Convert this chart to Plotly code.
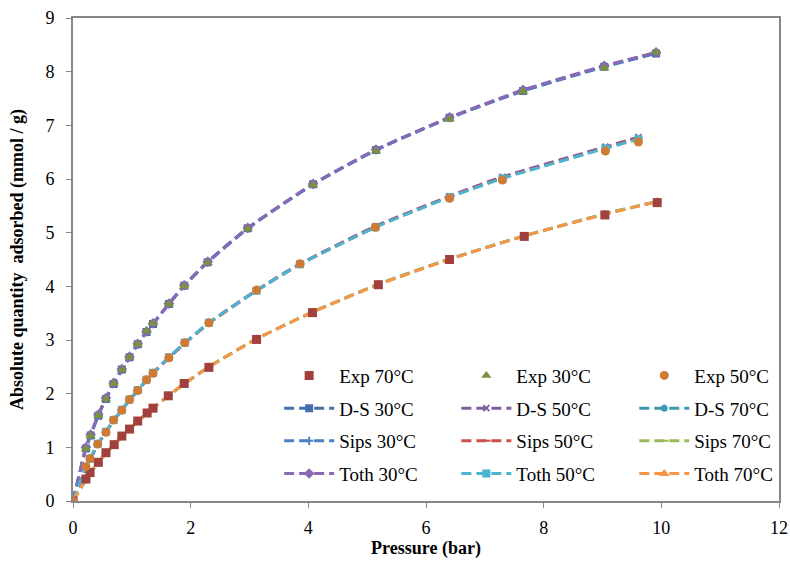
import plotly.graph_objects as go

# ---- data ----
p30 = [0, 0.22, 0.30, 0.43, 0.56, 0.69, 0.83, 0.96, 1.10, 1.25, 1.36, 1.63, 1.89, 2.29, 2.97, 4.08, 5.15, 6.40, 7.65, 9.03, 9.91]
q30 = [0, 0.97, 1.21, 1.59, 1.90, 2.19, 2.45, 2.68, 2.92, 3.17, 3.31, 3.67, 4.00, 4.44, 5.07, 5.89, 6.52, 7.12, 7.63, 8.07, 8.36]

p50 = [0, 0.22, 0.29, 0.42, 0.56, 0.69, 0.83, 0.96, 1.10, 1.25, 1.36, 1.63, 1.90, 2.31, 3.12, 3.86, 5.14, 6.40, 7.30, 9.05, 9.61]
q50 = [0, 0.64, 0.79, 1.06, 1.28, 1.51, 1.69, 1.89, 2.06, 2.26, 2.38, 2.67, 2.95, 3.32, 3.93, 4.42, 5.10, 5.64, 5.98, 6.52, 6.69]

p70 = [0, 0.22, 0.29, 0.43, 0.56, 0.70, 0.83, 0.96, 1.10, 1.26, 1.36, 1.62, 1.89, 2.31, 3.12, 4.07, 5.19, 6.40, 7.67, 9.04, 9.93]
q70 = [0, 0.41, 0.53, 0.72, 0.90, 1.05, 1.21, 1.34, 1.49, 1.64, 1.73, 1.96, 2.19, 2.49, 3.01, 3.51, 4.03, 4.50, 4.93, 5.33, 5.56]

# model curves
ds30 = [0, 0.98, 1.22, 1.59, 1.90, 2.18, 2.45, 2.68, 2.92, 3.15, 3.30, 3.67, 4.01, 4.45, 5.08, 5.90, 6.54, 7.14, 7.64, 8.09, 8.34]
sips30 = [0, 0.99, 1.23, 1.60, 1.91, 2.19, 2.45, 2.68, 2.92, 3.15, 3.30, 3.67, 4.01, 4.45, 5.08, 5.90, 6.54, 7.14, 7.65, 8.10, 8.35]
toth30 = [0, 1.00, 1.24, 1.61, 1.92, 2.20, 2.46, 2.69, 2.93, 3.16, 3.31, 3.68, 4.02, 4.46, 5.09, 5.91, 6.55, 7.15, 7.66, 8.11, 8.36]

ds50 = [0, 0.62, 0.78, 1.05, 1.29, 1.50, 1.70, 1.88, 2.06, 2.25, 2.38, 2.67, 2.94, 3.32, 3.93, 4.42, 5.12, 5.68, 6.04, 6.60, 6.78]
sips50 = [0, 0.61, 0.77, 1.05, 1.28, 1.50, 1.69, 1.88, 2.06, 2.25, 2.38, 2.67, 2.94, 3.31, 3.92, 4.41, 5.11, 5.67, 6.02, 6.58, 6.76]
toth50 = [0, 0.63, 0.79, 1.06, 1.29, 1.51, 1.70, 1.89, 2.07, 2.26, 2.39, 2.68, 2.95, 3.32, 3.92, 4.41, 5.10, 5.66, 6.01, 6.57, 6.74]

ds70 = [0, 0.40, 0.52, 0.72, 0.89, 1.05, 1.20, 1.34, 1.48, 1.64, 1.73, 1.96, 2.18, 2.50, 3.02, 3.52, 4.04, 4.51, 4.94, 5.35, 5.58]
sips70 = [0, 0.40, 0.52, 0.72, 0.89, 1.05, 1.20, 1.34, 1.48, 1.64, 1.73, 1.96, 2.18, 2.50, 3.02, 3.52, 4.04, 4.51, 4.94, 5.35, 5.58]
toth70 = [0, 0.41, 0.53, 0.72, 0.90, 1.05, 1.20, 1.34, 1.49, 1.64, 1.73, 1.96, 2.19, 2.50, 3.02, 3.52, 4.03, 4.50, 4.94, 5.34, 5.58]

x_ticks = [0, 2, 4, 6, 8, 10, 12]
y_ticks = [0, 1, 2, 3, 4, 5, 6, 7, 8, 9]

FONT = "Liberation Serif"
DASH = "10px,5px"

fig = go.Figure()

models = [
    # name, x, y, color, symbol, legend, rank
    ("D-S 30°C", p30, ds30, "#4470AA", "square", "legend", 2),
    ("D-S 50°C", p50, ds50, "#7E5FA0", "x-thin-open", "legend2", 2),
    ("D-S 70°C", p70, ds70, "#3A98B0", "asterisk-open", "legend3", 2),
    ("Sips 30°C", p30, sips30, "#4A83C5", "cross-thin-open", "legend", 3),
    ("Sips 50°C", p50, sips50, "#C9504C", "line-ew-open", "legend2", 3),
    ("Sips 70°C", p70, sips70, "#9BBB59", "line-ew-open", "legend3", 3),
    ("Toth 30°C", p30, toth30, "#8B68B3", "diamond", "legend", 4),
    ("Toth 50°C", p50, toth50, "#4BB5D1", "square", "legend2", 4),
    ("Toth 70°C", p70, toth70, "#F79646", "triangle-up", "legend3", 4),
]
for name, xs, ys, col, sym, leg, rank in models:
    fig.add_trace(go.Scatter(
        x=xs, y=ys, name=name, mode="lines+markers",
        line=dict(color=col, width=3, dash=DASH, shape="spline", smoothing=0.5),
        marker=dict(symbol=sym, size=6, color=col, line=dict(color=col, width=2)),
        legend=leg, legendrank=rank, legendgroup=name,
    ))

exps = [
    ("Exp 70°C", p70, q70, "#A0413D", "square", "legend", 1),
    ("Exp 30°C", p30, q30, "#77933C", "triangle-up", "legend2", 1),
    ("Exp 50°C", p50, q50, "#CF7A35", "circle", "legend3", 1),
]
for name, xs, ys, col, sym, leg, rank in exps:
    fig.add_trace(go.Scatter(
        x=xs, y=ys, name=name, mode="markers",
        marker=dict(symbol=sym, size=9, color=col),
        legend=leg, legendrank=rank, legendgroup=name,
    ))

axis_col = "#868686"
leg_common = dict(font=dict(family=FONT, size=19, color="black"), bgcolor="rgba(0,0,0,0)",
                  itemwidth=50, tracegroupgap=5, yanchor="top", xanchor="left",
                  traceorder="grouped", itemclick=False)
fig.update_layout(
    width=790, height=565,
    margin=dict(l=73, r=11, t=18, b=64),
    paper_bgcolor="white", plot_bgcolor="white",
    font=dict(family=FONT, size=18, color="black"),
    showlegend=True,
    legend=dict(x=0.292, y=0.299, **leg_common),
    legend2=dict(x=0.543, y=0.299, **leg_common),
    legend3=dict(x=0.795, y=0.299, **leg_common),
    xaxis=dict(range=[0, 12], tickvals=x_ticks, ticks="outside", ticklen=5, tickcolor=axis_col,
               showline=True, linecolor=axis_col, linewidth=2, mirror=True, showgrid=False,
               zeroline=False, tickfont=dict(family=FONT, size=18), automargin=False,
               ticklabelstandoff=4,
               title=dict(text="<b>Pressure (bar)</b>", font=dict(family=FONT, size=18), standoff=5)),
    yaxis=dict(range=[0, 9], tickvals=y_ticks, ticks="outside", ticklen=5, tickcolor=axis_col,
               showline=True, linecolor=axis_col, linewidth=2, mirror=True, showgrid=False,
               zeroline=False, tickfont=dict(family=FONT, size=18), automargin=False,
               ticklabelstandoff=8,
               title=dict(text="<b>Absolute quantity  adsorbed (mmol / g)</b>", font=dict(family=FONT, size=18), standoff=17)),
)

# remove the browser's default 8px body margin so the figure fills the window exactly
fig.write_html("out.html", config={"displayModeBar": False},
               post_script="document.body.style.margin='0';document.body.style.overflow='hidden';")
